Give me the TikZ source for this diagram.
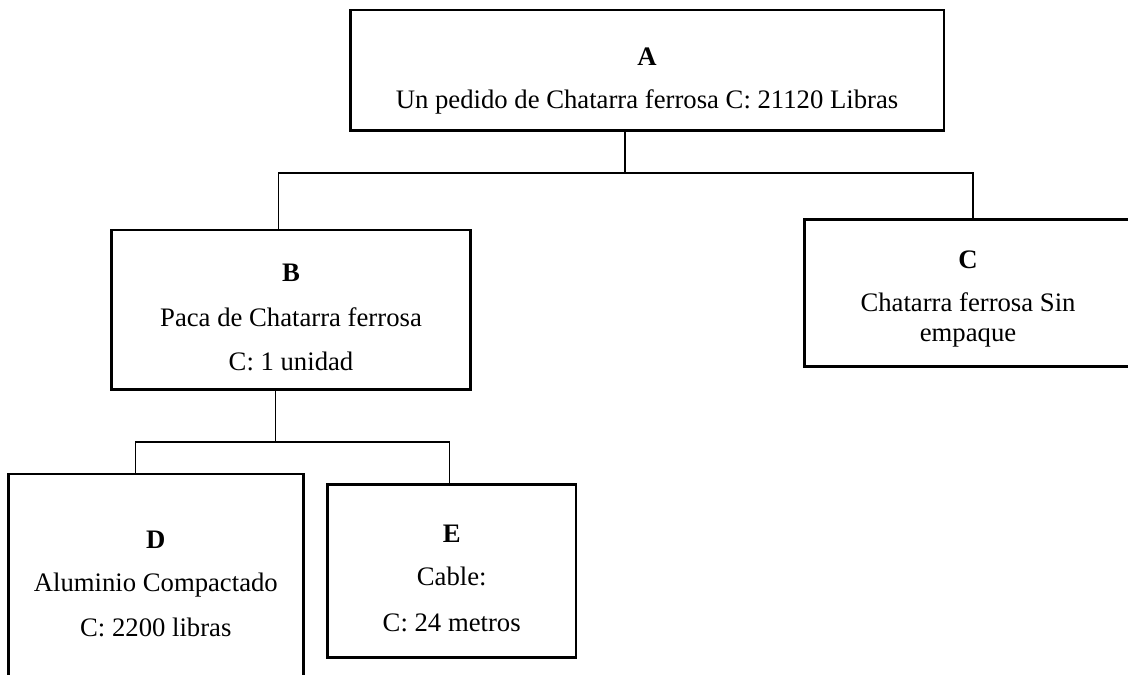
\documentclass[tikz,border=0pt]{standalone}
\usepackage{fontspec}
\setmainfont{Liberation Serif}
\begin{document}
\begin{tikzpicture}[x=1pt,y=-1pt,
  box/.style={draw=black, line width=2.6pt, rectangle, inner sep=0pt, outer sep=0pt},
  conn/.style={draw=black, line width=1.1pt},
  lbl/.style={anchor=base, inner sep=0pt, font=\fontsize{26.7pt}{32pt}\selectfont},
  ttl/.style={lbl, font=\fontsize{26.7pt}{32pt}\selectfont\bfseries}]
\useasboundingbox (0,0) rectangle (1128,675);
\clip (0,0) rectangle (1128,675);

% boxes
\node[box, minimum width=593.3pt, minimum height=120.7pt] (A) at (647.35,70.35) {};
\node[box, minimum width=358.6pt, minimum height=159.3pt] (B) at (291,309.65) {};
\node[box, minimum width=326.6pt, minimum height=147.4pt] (C) at (968,293) {};
\node[box, minimum width=295pt, minimum height=226pt] (D) at (155.8,587) {};
\node[box, minimum width=248.7pt, minimum height=173pt] (E) at (451.65,570.8) {};

% texts
\node[ttl] (A1) at (647,65) {A};
\node[lbl] (A2) at (647,108) {Un pedido de Chatarra ferrosa C: 21120 Libras};

\node[ttl] (B1) at (291,281.7) {B};
\node[lbl] (B2) at (291,326.7) {Paca de Chatarra ferrosa};
\node[lbl] (B3) at (291,370) {C: 1 unidad};

\node[ttl] (C1) at (968,268.3) {C};
\node[lbl] (C2) at (968,311.7) {Chatarra ferrosa Sin};
\node[lbl] (C3) at (968,341.7) {empaque};

\node[ttl] (D1) at (155.8,548) {D};
\node[lbl] (D2) at (155.8,591.7) {Aluminio Compactado};
\node[lbl] (D3) at (155.8,636.7) {C: 2200 libras};

\node[ttl] (E1) at (451.7,542.7) {E};
\node[lbl] (E2) at (451.7,585) {Cable:};
\node[lbl] (E3) at (451.7,631.7) {C: 24 metros};

% junction points of the connectors
\coordinate (busA) at (625,173);
\coordinate (toB) at (278.7,173);
\coordinate (toC) at (973,173);
\coordinate (busB) at (275.7,442);
\coordinate (toD) at (135.5,442);
\coordinate (toE) at (449.3,442);

% connectors
\draw[conn] (A.south -| busA) -- (busA);
\draw[conn] (B.north -| toB) -- (toB) -- (toC) -- (C.north -| toC);
\draw[conn] (B.south -| busB) -- (busB);
\draw[conn] (D.north -| toD) -- (toD) -- (toE) -- (E.north -| toE);
\end{tikzpicture}
\end{document}
